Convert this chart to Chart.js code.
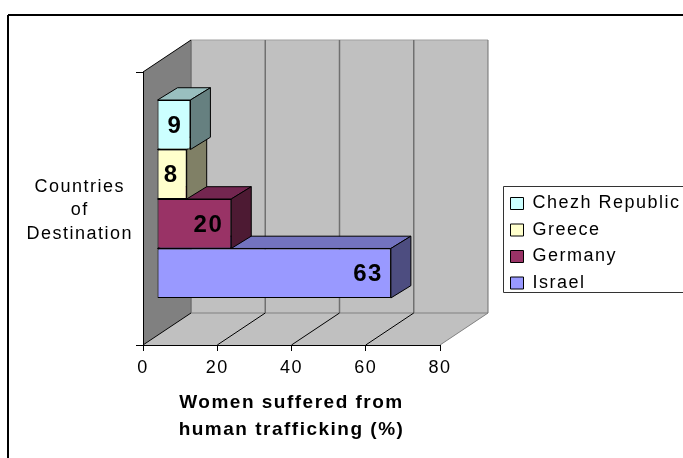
<!DOCTYPE html>
<html>
<head>
<meta charset="utf-8">
<style>html,body{margin:0;padding:0;background:#fff}canvas{display:block}</style>
<script src="https://cdn.jsdelivr.net/npm/chart.js@4/dist/chart.umd.min.js"></script>
</head>
<body>
<canvas id="c" width="683" height="458"></canvas>
<script>
const categories = [["Countries", "of", "Destination"]];
const seriesNames = ["Chezh Republic", "Greece", "Germany", "Israel"];
const chezhValues = [9];
const greeceValues = [8];
const germanyValues = [20];
const israelValues = [63];
const faceColors = ["#CCFFFF", "#FFFFCC", "#993366", "#9999FF"];
const topColors = ["#99BFBF", "#BFBF99", "#732650", "#7373BF"];
const sideColors = ["#668080", "#808066", "#4D1A33", "#4D4D80"];
const xTitle = ["Women suffered from", "human trafficking (%)"];

const FONT = "'Liberation Sans', Arial, sans-serif";
const SPACING = "1.5px";
const DEPTH = {x: 48, y: -32};
const BAR_SHIFT = {x: 14, y: -9.5};
const BAR_DEPTH = {x: 20, y: -12.3};

function poly(ctx, pts, fill, stroke, lw) {
  ctx.beginPath();
  pts.forEach((p, i) => i ? ctx.lineTo(p[0], p[1]) : ctx.moveTo(p[0], p[1]));
  ctx.closePath();
  if (fill) { ctx.fillStyle = fill; ctx.fill(); }
  if (stroke) { ctx.strokeStyle = stroke; ctx.lineWidth = lw || 1; ctx.stroke(); }
}
function seg(ctx, x1, y1, x2, y2, color, lw) {
  ctx.beginPath(); ctx.moveTo(x1, y1); ctx.lineTo(x2, y2);
  ctx.strokeStyle = color; ctx.lineWidth = lw; ctx.stroke();
}

const scene = {
  id: "scene",
  beforeUpdate(chart) { chart.ctx.letterSpacing = SPACING; },
  afterLayout(chart) {
    const l = chart.legend;
    l.left = 502; l.top = 186; l.right = 683; l.bottom = 458; l.width = 181; l.height = 272;
  },
  beforeDraw(chart) {
    const ctx = chart.ctx, x = chart.scales.x, a = chart.chartArea;
    ctx.letterSpacing = SPACING;
    const dx = DEPTH.x, dy = DEPTH.y;
    ctx.save();
    // chart frame
    seg(ctx, 8, 15, 683, 15, "#000", 2);
    seg(ctx, 8, 15, 8, 458, "#000", 2);
    // legend frame
    ctx.strokeStyle = "#333"; ctx.lineWidth = 1;
    ctx.beginPath(); ctx.moveTo(683, 186.5); ctx.lineTo(503.5, 186.5); ctx.lineTo(503.5, 292.5); ctx.lineTo(683, 292.5); ctx.stroke();
    // floor, side wall, back wall
    poly(ctx, [[a.left, a.bottom], [a.right, a.bottom], [a.right + dx, a.bottom + dy], [a.left + dx, a.bottom + dy]], "#C0C0C0");
    poly(ctx, [[a.left + dx, a.top + dy], [a.right + dx, a.top + dy], [a.right + dx, a.bottom + dy], [a.left + dx, a.bottom + dy]], "#C0C0C0");
    poly(ctx, [[a.left, a.top], [a.left + dx, a.top + dy], [a.left + dx, a.bottom + dy], [a.left, a.bottom]], "#808080");
    seg(ctx, a.left + dx, a.top + dy, a.right + dx, a.top + dy, "#A0A0A0", 1);
    seg(ctx, a.left + dx, a.bottom + dy, a.right + dx, a.bottom + dy, "#808080", 1);
    x.ticks.forEach((t, i) => {
      const px = x.getPixelForValue(t.value);
      const last = i === x.ticks.length - 1;
      seg(ctx, px + dx, a.top + dy, px + dx, a.bottom + dy, "#707070", last ? 1 : 1.5);
      seg(ctx, px, a.bottom, px + dx, a.bottom + dy, last ? "#808080" : "#000", 1);
    });
    seg(ctx, a.left, a.top, a.left + dx, a.top + dy, "#000", 1);
    ctx.restore();
  },
  beforeDatasetDraw(chart, args) {
    const ctx = chart.ctx, i = args.index;
    ctx.save();
    ctx.translate(BAR_SHIFT.x, BAR_SHIFT.y);
    const b = chart.getDatasetMeta(i).data[0];
    const t = b.y - b.height / 2, bt = b.y + b.height / 2, l = b.base, r = b.x;
    const dx = BAR_DEPTH.x, dy = BAR_DEPTH.y;
    poly(ctx, [[l, t], [l + dx, t + dy], [r + dx, t + dy], [r, t]], topColors[i], "#000", 1);
    poly(ctx, [[r, t], [r + dx, t + dy], [r + dx, bt + dy], [r, bt]], sideColors[i], "#000", 1);
  },
  afterDatasetDraw(chart, args) {
    const ctx = chart.ctx, b = chart.getDatasetMeta(args.index).data[0];
    ctx.font = "bold 24px " + FONT;
    ctx.fillStyle = "#000";
    ctx.textAlign = "right";
    ctx.textBaseline = "middle";
    ctx.fillText(String(chart.data.datasets[args.index].data[0]), b.x - 8, b.y + 1.5);
    ctx.restore();
  }
};

const allValues = [chezhValues, greeceValues, germanyValues, israelValues];
new Chart(document.getElementById("c"), {
  type: "bar",
  data: {
    labels: categories,
    datasets: seriesNames.map((name, i) => ({
      label: name,
      data: allValues[i],
      backgroundColor: faceColors[i],
      borderColor: "#000",
      borderWidth: 1,
      borderSkipped: false,
      clip: false
    }))
  },
  plugins: [scene],
  options: {
    indexAxis: "y",
    responsive: false,
    animation: false,
    devicePixelRatio: 1,
    categoryPercentage: 0.725,
    barPercentage: 1,
    layout: {padding: {left: 8, right: 243, top: 72, bottom: 11}},
    plugins: {
      tooltip: {enabled: false},
      legend: {
        position: "chartArea",
        align: "start",
        labels: {
          boxWidth: 13, boxHeight: 12, padding: 8.5, color: "#000",
          font: {family: FONT, size: 18}
        }
      }
    },
    scales: {
      x: {
        min: 0, max: 80,
        afterFit(s) { s.height = 102; },
        ticks: {stepSize: 20, color: "#000", padding: 6, maxRotation: 0, font: {family: FONT, size: 18}},
        grid: {drawOnChartArea: false, tickLength: 6, tickColor: "#000"},
        border: {color: "#000", width: 1},
        title: {display: true, text: xTitle, color: "#000", font: {family: FONT, size: 19, weight: "bold", lineHeight: 1.4}}
      },
      y: {
        afterFit(s) { s.width = 135; },
        ticks: {crossAlign: "center", color: "#000", padding: 3, labelOffset: 2, font: {family: FONT, size: 18, lineHeight: 1.28}},
        grid: {drawOnChartArea: false, tickLength: 7, tickColor: "#000"},
        border: {color: "#000", width: 1}
      }
    }
  }
});
</script>
</body>
</html>
